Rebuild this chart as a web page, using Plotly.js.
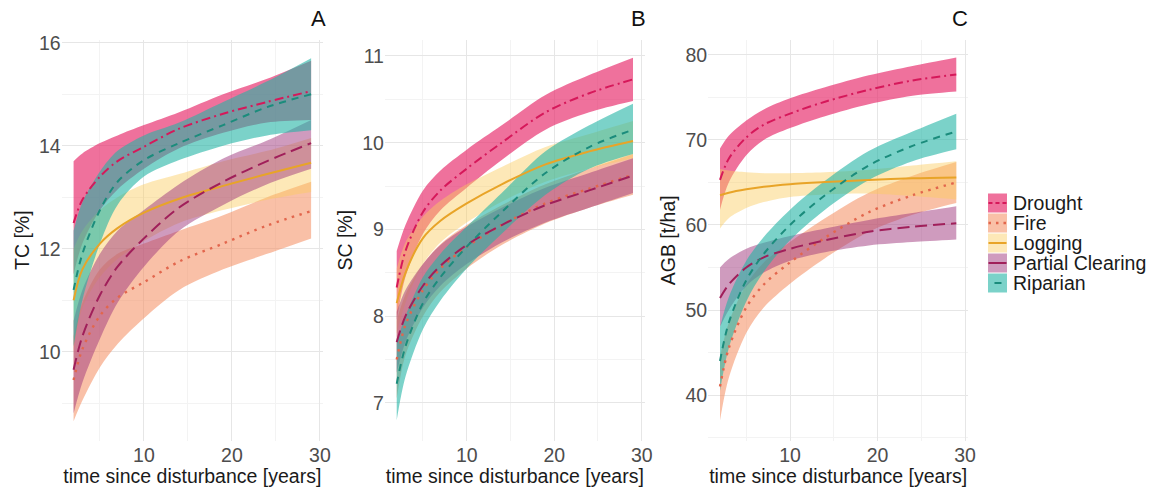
<!DOCTYPE html>
<html><head><meta charset="utf-8">
<script src="https://cdn.plot.ly/plotly-3.0.1.min.js"></script>
<style>html,body{margin:0;padding:0;background:#fff}#chart{width:1161px;height:490px}</style>
</head><body><div id="chart"></div>
<script>
// ---------- data ----------
const years = [2, 3, 5, 7, 10, 14, 19, 24, 29];
const groups = ['Drought', 'Fire', 'Logging', 'Partial Clearing', 'Riparian'];
const panelLetters = ['A', 'B', 'C'];
const yTitles = ['TC [%]', 'SC [%]', 'AGB [t/ha]'];
const xTitle = 'time since disturbance [years]';

// Panel A: TC [%]
const tcDrought   = [12.5, 12.95, 13.4, 13.7, 13.98, 14.33, 14.62, 14.85, 15.06];
const tcDroughtLo = [11.5, 12.1, 12.75, 13.15, 13.55, 13.95, 14.25, 14.45, 14.5];
const tcDroughtHi = [13.7, 13.85, 14.05, 14.2, 14.4, 14.65, 15.0, 15.3, 15.65];
const tcFire      = [9.45, 10.05, 10.7, 11.05, 11.35, 11.75, 12.1, 12.45, 12.73];
const tcFireLo    = [8.65, 9.05, 9.7, 10.15, 10.65, 11.2, 11.6, 11.9, 12.2];
const tcFireHi    = [10.3, 10.95, 11.6, 11.9, 12.1, 12.35, 12.65, 13.0, 13.3];
const tcLogging   = [11.0, 11.6, 12.1, 12.4, 12.7, 12.97, 13.22, 13.45, 13.67];
const tcLoggingLo = [10.0, 10.85, 11.45, 11.8, 12.15, 12.5, 12.75, 12.95, 13.1];
const tcLoggingHi = [12.0, 12.35, 12.75, 13.0, 13.25, 13.45, 13.7, 13.9, 14.15];
const tcPartial   = [9.65, 10.3, 11.1, 11.65, 12.2, 12.8, 13.3, 13.7, 14.05];
const tcPartialLo = [8.8, 9.4, 10.25, 10.95, 11.65, 12.35, 12.85, 13.25, 13.55];
const tcPartialHi = [10.6, 11.2, 11.9, 12.35, 12.75, 13.25, 13.75, 14.1, 14.5];
const tcRiparian   = [11.2, 11.9, 12.75, 13.3, 13.72, 14.05, 14.4, 14.75, 15.0];
const tcRiparianLo = [10.1, 11.0, 12.1, 12.85, 13.4, 13.72, 14.0, 14.2, 14.3];
const tcRiparianHi = [12.35, 12.9, 13.5, 13.9, 14.2, 14.45, 14.85, 15.25, 15.7];

// Panel B: SC [%]
const scDrought   = [8.33, 8.75, 9.2, 9.45, 9.7, 10.0, 10.35, 10.57, 10.73];
const scDroughtLo = [7.95, 8.45, 8.95, 9.22, 9.48, 9.8, 10.15, 10.35, 10.48];
const scDroughtHi = [8.75, 9.05, 9.45, 9.68, 9.92, 10.2, 10.55, 10.78, 10.98];
const scFire      = [7.5, 7.9, 8.3, 8.55, 8.8, 9.05, 9.3, 9.47, 9.63];
const scFireLo    = [7.05, 7.55, 8.0, 8.28, 8.55, 8.82, 9.07, 9.25, 9.4];
const scFireHi    = [7.95, 8.25, 8.6, 8.83, 9.05, 9.28, 9.52, 9.7, 9.87];
const scLogging   = [8.15, 8.5, 8.9, 9.1, 9.3, 9.52, 9.75, 9.9, 10.02];
const scLoggingLo = [7.8, 8.15, 8.6, 8.85, 9.08, 9.32, 9.55, 9.7, 9.82];
const scLoggingHi = [8.55, 8.85, 9.15, 9.33, 9.52, 9.72, 9.95, 10.1, 10.25];
const scPartial   = [7.7, 8.0, 8.35, 8.58, 8.82, 9.05, 9.28, 9.45, 9.62];
const scPartialLo = [7.35, 7.7, 8.1, 8.35, 8.6, 8.85, 9.08, 9.25, 9.42];
const scPartialHi = [8.05, 8.3, 8.6, 8.82, 9.03, 9.25, 9.48, 9.65, 9.82];
const scRiparian   = [7.22, 7.65, 8.15, 8.45, 8.8, 9.2, 9.65, 9.95, 10.15];
const scRiparianLo = [6.8, 7.3, 7.85, 8.18, 8.55, 8.95, 9.4, 9.7, 9.87];
const scRiparianHi = [7.7, 8.0, 8.45, 8.72, 9.03, 9.42, 9.9, 10.2, 10.45];

// Panel C: AGB [t/ha]
const agbDrought   = [65.3, 67.8, 70.3, 71.8, 73.1, 74.5, 75.9, 77.0, 77.7];
const agbDroughtLo = [61.8, 65.0, 68.2, 70.0, 71.4, 72.8, 74.2, 75.2, 75.7];
const agbDroughtHi = [69.0, 70.5, 72.3, 73.6, 74.9, 76.2, 77.6, 78.7, 79.7];
const agbFire      = [41.0, 45.5, 50.3, 53.0, 55.6, 58.5, 61.5, 63.5, 65.0];
const agbFireLo    = [37.0, 42.0, 47.3, 50.3, 53.1, 56.1, 59.2, 61.2, 62.6];
const agbFireHi    = [44.5, 48.5, 53.0, 55.6, 58.0, 60.8, 63.8, 65.8, 67.4];
const agbLogging   = [63.5, 63.8, 64.2, 64.5, 64.8, 65.05, 65.3, 65.5, 65.6];
const agbLoggingLo = [59.6, 60.8, 62.0, 62.7, 63.3, 63.6, 63.7, 63.4, 63.0];
const agbLoggingHi = [66.6, 66.4, 66.2, 66.1, 66.1, 66.2, 66.5, 67.0, 67.5];
const agbPartial   = [51.4, 53.0, 55.0, 56.2, 57.2, 58.2, 59.2, 59.8, 60.2];
const agbPartialLo = [48.0, 50.0, 52.8, 54.4, 55.8, 56.8, 57.6, 58.0, 58.3];
const agbPartialHi = [55.0, 56.0, 57.2, 57.9, 58.7, 59.6, 60.6, 61.4, 62.2];
const agbRiparian   = [44.0, 48.5, 53.5, 56.6, 60.0, 63.5, 67.0, 69.3, 71.0];
const agbRiparianLo = [40.5, 45.5, 51.0, 54.5, 58.2, 61.8, 65.3, 67.5, 68.9];
const agbRiparianHi = [48.0, 51.5, 55.8, 58.6, 61.8, 65.2, 68.7, 71.0, 73.1];

// ---------- assembly ----------
const panels = [
  [[tcDrought, tcDroughtLo, tcDroughtHi], [tcFire, tcFireLo, tcFireHi], [tcLogging, tcLoggingLo, tcLoggingHi], [tcPartial, tcPartialLo, tcPartialHi], [tcRiparian, tcRiparianLo, tcRiparianHi]],
  [[scDrought, scDroughtLo, scDroughtHi], [scFire, scFireLo, scFireHi], [scLogging, scLoggingLo, scLoggingHi], [scPartial, scPartialLo, scPartialHi], [scRiparian, scRiparianLo, scRiparianHi]],
  [[agbDrought, agbDroughtLo, agbDroughtHi], [agbFire, agbFireLo, agbFireHi], [agbLogging, agbLoggingLo, agbLoggingHi], [agbPartial, agbPartialLo, agbPartialHi], [agbRiparian, agbRiparianLo, agbRiparianHi]]
];

const lineColors = ['#d6185a', '#e2664d', '#e8a428', '#a01f5a', '#1b8c7c'];
const fillColors = ['rgba(230,40,105,0.66)', 'rgba(244,140,95,0.55)', 'rgba(250,205,95,0.45)', 'rgba(160,55,125,0.5)', 'rgba(35,180,165,0.6)'];
const dashes = ['9px,4px,2px,4px', '2.5px,5.5px', 'solid', '12px,6px', '7px,6px'];
const keyDashes = ['4px,3px', '2.5px,5px', 'solid', 'solid', '0px,6px,7px,6px'];

const W = 1161, H = 490;
const xPx = [[61.7, 323], [384.9, 644.8], [708.2, 968.1]];
const yPx = [39.5, 441];
const yRanges = [[8.266, 16.062], [6.56, 11.19], [34.59, 81.82]];
const yDticks = [2, 1, 10];
const FONT = 'Liberation Sans, Arial, sans-serif';
const FS = 19.5;
const keyPx = {x: [988, 1007], y: [193, 293]};
const keySpan = [-0.95, 0.95];

const traces = [];
panels.forEach((panel, p) => {
  const xa = p === 0 ? 'x' : 'x' + (p + 1);
  const ya = p === 0 ? 'y' : 'y' + (p + 1);
  panel.forEach((s, g) => {
    traces.push({x: years, y: s[1], xaxis: xa, yaxis: ya, mode: 'lines', line: {width: 0, shape: 'spline', smoothing: 0.9}, showlegend: false, hoverinfo: 'skip'});
    traces.push({x: years, y: s[2], xaxis: xa, yaxis: ya, mode: 'lines', fill: 'tonexty', fillcolor: fillColors[g], line: {width: 0, shape: 'spline', smoothing: 0.9}, showlegend: false, hoverinfo: 'skip'});
  });
  panel.forEach((s, g) => {
    traces.push({x: years, y: s[0], xaxis: xa, yaxis: ya, mode: 'lines', name: groups[g],
      line: {color: lineColors[g], width: g === 1 ? 2.4 : 2, dash: dashes[g], shape: 'spline', smoothing: 0.9}, showlegend: false});
  });
});
// legend keys (drawn on a small categorical key axis; labels are its tick labels)
groups.forEach((gname, g) => {
  traces.push({x: [0], y: [gname], xaxis: 'x4', yaxis: 'y4', mode: 'markers', showlegend: false, hoverinfo: 'skip',
    marker: {symbol: 'square', size: 19, color: fillColors[g], line: {width: 0}}});
  traces.push({x: keySpan, y: [gname, gname], xaxis: 'x4', yaxis: 'y4', mode: 'lines', showlegend: false, hoverinfo: 'skip',
    line: {color: lineColors[g], width: g === 1 ? 2.4 : 2, dash: keyDashes[g]}});
});

const layout = {
  width: W, height: H,
  margin: {l: 0, r: 0, t: 0, b: 0},
  paper_bgcolor: '#fff', plot_bgcolor: 'rgba(0,0,0,0)',
  font: {family: FONT, color: '#1a1a1a', size: FS},
  showlegend: false,
  annotations: panelLetters.map((t, p) => ({text: t, xref: 'paper', yref: 'paper', x: [318, 638, 960][p] / W, y: 1 - 18 / H, xanchor: 'center', yanchor: 'middle', showarrow: false, font: {size: 22, color: '#111', family: FONT}})),
  xaxis4: {domain: [keyPx.x[0] / W, keyPx.x[1] / W], anchor: 'y4', range: [-1, 1], visible: false, fixedrange: true},
  yaxis4: {domain: [1 - keyPx.y[1] / H, 1 - keyPx.y[0] / H], anchor: 'x4', type: 'category', categoryarray: groups, categoryorder: 'array',
    tickmode: 'array', tickvals: groups, ticktext: groups,
    range: [groups.length - 0.5, -0.5], side: 'right', showgrid: false, zeroline: false, showline: false, ticks: '',
    ticklabelstandoff: 5, tickfont: {size: FS, color: '#1a1a1a'}, fixedrange: true}
};

for (let p = 0; p < 3; p++) {
  const sfx = p === 0 ? '' : String(p + 1);
  layout['xaxis' + sfx] = {
    domain: [xPx[p][0] / W, xPx[p][1] / W], anchor: 'y' + sfx, range: [0.65, 30.35],
    tickmode: 'linear', tick0: 0, dtick: 10, ticks: '', showline: false, zeroline: false,
    showgrid: true, gridcolor: '#e6e6e6', gridwidth: 1,
    minor: {tick0: 0, dtick: 5, showgrid: true, gridcolor: '#f3f3f3', gridwidth: 1, ticks: ''},
    tickfont: {size: FS, color: '#4d4d4d'},
    title: {text: xTitle, font: {size: FS, color: '#1a1a1a'}, standoff: 2}
  };
  layout['yaxis' + sfx] = {
    domain: [1 - yPx[1] / H, 1 - yPx[0] / H], anchor: 'x' + sfx, range: yRanges[p],
    tickmode: 'linear', tick0: 0, dtick: yDticks[p], ticks: '', showline: false, zeroline: false,
    showgrid: true, gridcolor: '#e6e6e6', gridwidth: 1,
    minor: {tick0: 0, dtick: yDticks[p] / 2, showgrid: true, gridcolor: '#f3f3f3', gridwidth: 1, ticks: ''},
    tickfont: {size: FS, color: '#4d4d4d'},
    title: {text: yTitles[p], font: {size: FS, color: '#1a1a1a'}, standoff: 4}
  };
}

Plotly.newPlot('chart', traces, layout, {displayModeBar: false, staticPlot: true});
</script>
</body></html>
